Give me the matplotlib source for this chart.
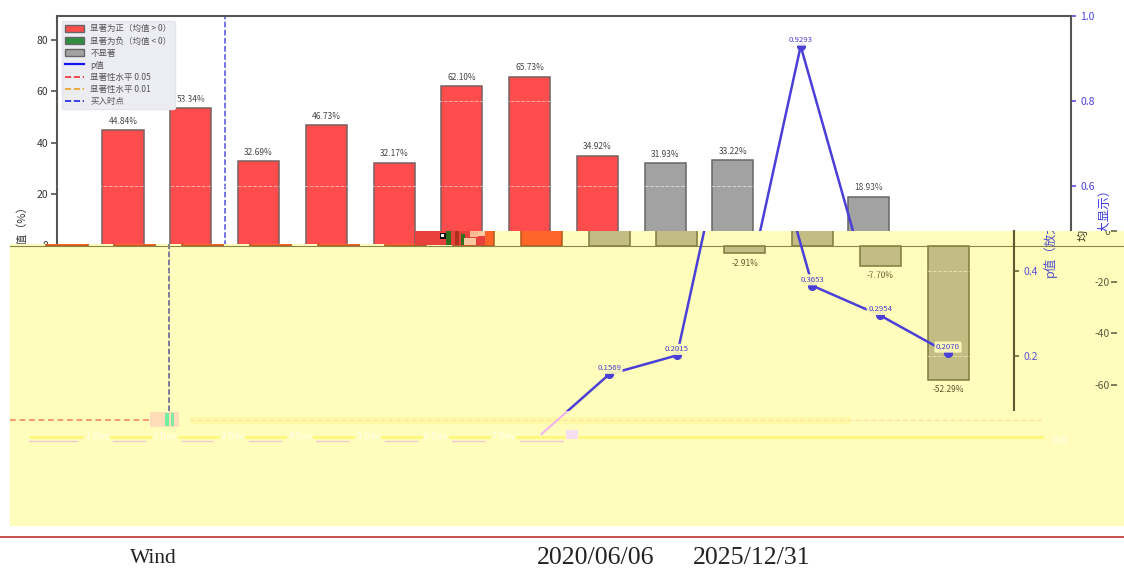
import matplotlib
matplotlib.use("Agg")
import matplotlib.pyplot as plt
from matplotlib.patches import Patch, Rectangle
from matplotlib.lines import Line2D
from matplotlib.transforms import Bbox

plt.rcParams['font.family'] = ['Noto Sans CJK SC', 'DejaVu Sans']
plt.rcParams['axes.unicode_minus'] = False

# ---------- data ----------
mean_returns = [44.84, 53.34, 32.69, 46.73, 32.17, 62.10, 65.73, 34.92,
                31.93, 33.22, -2.91, 18.93, -7.70, -52.29]
p_values = [0.003, 0.002, 0.008, 0.001, 0.009, 0.001, 0.001, 0.016,
            0.1569, 0.2015, 0.9293, 0.3653, 0.2954, 0.2070]
sig_levels = [0.05, 0.01]
buy_point = 1.5
x_tick_labels = ['1 Day', '2 Day', '3 Day', '4 Day', '5 Day', '6 Day', '7 Day']
legend_labels = ['显著为正（均值 > 0）', '显著为负（均值 < 0）', '不显著', 'p值',
                 '显著性水平 0.05', '显著性水平 0.01', '买入时点']
footer_texts = ['Wind', '2020/06/06', '2025/12/31']

W, H = 1124, 570
STEP = 67.77
fig = plt.figure(figsize=(W / 100, H / 100), dpi=100, facecolor='white')
YEL = '#FFFDBB'
idx = range(len(mean_returns))


def layer(l, t, r, b, x0, zero, z, face='none'):
    ax = fig.add_axes([l / W, 1 - b / H, (r - l) / W, (b - t) / H], zorder=z)
    ax.set_xlim((l - x0) / STEP, (r - x0) / STEP)
    ax.set_ylim((zero - b) / 2.56, (zero - t) / 2.56)
    ax.set_facecolor(face)
    axp = ax.twinx()
    axp.set_zorder(z + 0.1)
    axp.set_ylim((441 - b) / 425, (441 - t) / 425)
    for a in (ax, axp):
        for s in a.spines.values():
            s.set_visible(False)
        a.set_xticks([])
        a.set_yticks([])
    return ax, axp


def clip_px(t, l, top, r, b):
    t.set_clip_box(Bbox([[l, H - b], [r, H - top]]))
    t.set_clip_on(True)


def inside(a, x, y):
    x0, x1 = a.get_xlim()
    y0, y1 = a.get_ylim()
    return x0 <= x <= x1 and y0 <= y <= y1


def draw(ax, axp, red, gray, redge, gedge, txt, lab_box, grid, vline, zero_line=None):
    for i in idx:
        sig = p_values[i] < sig_levels[0]
        ax.bar(i, mean_returns[i], width=0.605,
               color=red if sig else gray,
               edgecolor=redge if sig else gedge, linewidth=1.1, zorder=2)
        v = mean_returns[i]
        lab_y = v + (2.2 if v > 0 else -3.2)
        if inside(ax, i, lab_y):
            ax.text(i, v + (1.7 if v > 0 else -2), f'{v:.2f}%', ha='center',
                    va='bottom' if v > 0 else 'top', fontsize=6.0, color=txt,
                    clip_on=True, zorder=3)
    if zero_line:
        ax.axhline(0, color=zero_line, lw=0.8, zorder=2.5)
    for g in (0.2, 0.4, 0.6, 0.8):
        axp.axhline(g, color=grid, lw=0.7, ls='--', alpha=0.55, zorder=1)
    ax.axvline(buy_point, color=vline, lw=1.1, ls='--', zorder=1.5)
    axp.plot(list(idx), p_values, color='#4A40D8', lw=1.8, marker='o', ms=5.5, zorder=4)
    for i in idx[8:]:
        if inside(axp, i, p_values[i] + 0.014):
            axp.annotate(f'{p_values[i]:.4f}', (i, p_values[i]), xytext=(0, 4.3),
                         textcoords='offset points', ha='center', va='center',
                         fontsize=5.6, color='#4A40C8', clip_on=True, zorder=5,
                         annotation_clip=True,
                         bbox=dict(boxstyle='round,pad=0.2', fc=lab_box, ec='none', alpha=0.92))


# ---------- top (white) layer ----------
ax, axp = layer(57, 16, 1071, 246, 123, 245, 1)
draw(ax, axp, '#FF4D4D', '#A2A2A2', '#77605F', '#666666', '#444444', 'white',
     '#FFFFFF', '#5050E0')
for s in ('left', 'top'):
    ax.spines[s].set_visible(True)
    ax.spines[s].set_color('#555555')
    ax.spines[s].set_linewidth(1.5)
axp.spines['right'].set_visible(True)
axp.spines['right'].set_color('#555555')
axp.spines['right'].set_linewidth(1.5)
ax.set_yticks([0, 20, 40, 60, 80])
ax.tick_params(axis='y', labelsize=7.5, labelcolor='#333333', color='#444444', length=4, width=1.1, pad=2.5)
axp.set_yticks([0.6, 0.8, 1.0])
axp.set_yticklabels(['0.6', '0.8', '1.0'])
axp.tick_params(axis='y', labelsize=7.5, labelcolor='#4A40E0', color='#4A40E0', length=3.5, width=1.1, pad=3)
handles = [Patch(fc='#FF4D4D', ec='#666666'), Patch(fc='#2F8F3F', ec='#666666'),
           Patch(fc='#A2A2A2', ec='#666666'),
           Line2D([], [], color='#1515F0', lw=1.6),
           Line2D([], [], color='#F03030', lw=1.2, ls='--'),
           Line2D([], [], color='#F0A020', lw=1.2, ls='--'),
           Line2D([], [], color='#2020E0', lw=1.2, ls='--')]
leg = axp.legend(handles, legend_labels, loc='upper left', bbox_to_anchor=(0.0045, 0.978),
                 fontsize=6.1, labelcolor='#555555', facecolor='#ECECF3', edgecolor='#E4E4EC',
                 framealpha=1, labelspacing=0.36, handlelength=2.2, handleheight=0.85,
                 handletextpad=0.8, borderpad=0.4, borderaxespad=0)
leg.set_zorder(10)
fig.text(22 / W, 1 - 228 / H, '均值（%）', rotation=90, ha='center', va='center',
         fontsize=8, color='#333333', zorder=1.5)
fig.text(1104 / W, 1 - 229 / H, 'p值（放大显示）', rotation=90, ha='center', va='center',
         fontsize=9, color='#3A3AE0', zorder=1.5)

# ---------- yellow layers, shifted left ----------
lower_style = dict(red='#FF6428', gray='#C3BD83', redge='#B0561E', gedge='#7E7A40',
                   txt='#5E5A30', lab_box=YEL, grid='#FFFDCC', vline='#5A5A90',
                   zero_line='#8A8648')
A, Ap = layer(10, 244, 1124, 411, 67, 246, 3, YEL)
draw(A, Ap, **lower_style)
B, Bp = layer(415, 231, 1124, 245, 67, 246, 2.5, YEL)
draw(B, Bp, **lower_style)
for a, ticks in ((Ap, [0.2, 0.4]), (Bp, [])):
    a.spines['right'].set_visible(True)
    a.spines['right'].set_position(('data', (1014 - 67) / STEP))
    a.spines['right'].set_color('#5E5A30')
    a.spines['right'].set_linewidth(1.5)
    a.set_yticks(ticks)
    a.set_yticklabels([str(t) for t in ticks])
    a.tick_params(axis='y', labelsize=7.5, labelcolor='#5A50D8', color='#5E5A30', length=3.5, width=1.1, pad=3)
t = fig.text(1050 / W, 1 - 229 / H, 'p值（放大显示）', rotation=90, ha='center', va='center',
             fontsize=9, color='#5050C8', zorder=6)
clip_px(t, 1000, 231, 1100, 300)

# pale bottom band
D, Dp = layer(10, 411, 1124, 526, 67, 246, 3.5, YEL)
Dp.hlines(sig_levels[0], (190 - 67) / STEP, (850 - 67) / STEP, color='#FFFAA6', lw=5, zorder=1)
Dp.hlines(sig_levels[0], (10 - 67) / STEP, (149 - 67) / STEP, color='#F08A60', lw=1.2,
          ls=(0, (3.5, 2.2)), zorder=2)
Dp.hlines(sig_levels[0], (190 - 67) / STEP, (1044 - 67) / STEP, color='#FFE2A0', lw=1.0,
          ls=(0, (3.5, 2.2)), zorder=2)
Dp.hlines(sig_levels[1], (29 - 67) / STEP, (1044 - 67) / STEP, color='#FFF77A', lw=2.0, zorder=1)
Dp.plot(list(idx)[7:9], p_values[7:9], color='#F0B0F0', lw=1.4, zorder=3)
for k, lab in enumerate(x_tick_labels):
    c = (97 + k * STEP - 67) / STEP
    Dp.text(c, sig_levels[1], lab, ha='center', va='center', fontsize=6.5, color='#FFFFF2',
            zorder=4, bbox=dict(fc=YEL, ec='none', pad=1))

# wrapped-around left axis at the far right
C, Cp = layer(1117, 231, 1125, 526, 1117, 231, 5)
C.spines['left'].set_visible(True)
C.spines['left'].set_color('none')
C.set_yticks([0, -20, -40, -60])
C.tick_params(axis='y', labelsize=7.5, labelcolor='#5A5A40', color='#5A5A40', length=4, width=1.1, pad=1)
for lbl in C.get_yticklabels():
    clip_px(lbl, 1000, 231, 1124, 526)
t = fig.text(1083 / W, 1 - 214 / H, '均值（%）', rotation=90, ha='center', va='center',
             fontsize=8, color='#333322', zorder=6)
clip_px(t, 1060, 231, 1100, 300)

# ---------- overlay in pixel units: glitch blocks, footer ----------
ov = fig.add_axes([0, 0, 1, 1], zorder=8)
ov.set_xlim(0, W)
ov.set_ylim(H, 0)
ov.axis('off')
glitch = [(415, 231, 70, 14, '#E8403A'), (440, 233, 6, 6, '#101010'), (441, 234, 3, 3, '#F8F8F0'),
          (446, 231, 5, 14, '#2E6E1E'), (455, 231, 4, 14, '#B03020'), (461, 234, 4, 11, '#2E6E1E'),
          (470, 231, 8, 6, '#FFB890'), (478, 231, 7, 5, '#FFC8A0'), (464, 238, 12, 7, '#FFC8A0'),
          (150, 412, 29, 15, '#FFDDB8'), (165, 413, 4, 13, '#70F0A0'), (171, 413, 3, 13, '#80E8A0'),
          (566, 430, 12, 9, '#F6DFF0')]
for gx, gy, gw, gh, gc in glitch:
    ov.add_patch(Rectangle((gx, gy), gw, gh, fc=gc, ec='none'))
under = [(29, 77), (113, 145), (182, 212), (249, 281), (316, 348), (385, 417), (452, 484), (520, 563)]
for a0, a1 in under:
    ov.plot([a0, a1], [441, 441], color='#EDC8D8', lw=1.0)
ov.text(1060, 441, '0.0', fontsize=8, color='#FFFFF0', ha='center', va='center')
ov.plot([0, W], [537, 537], color='#C9504E', lw=1.4)
for txt, cx, fs in zip(footer_texts, (153, 596, 752), (15.5, 18.6, 18.6)):
    ov.text(cx, 558.5, txt, family='Liberation Serif', fontsize=fs, color='#222222',
            ha='center', va='center')

fig.savefig('out.png', dpi=100)
